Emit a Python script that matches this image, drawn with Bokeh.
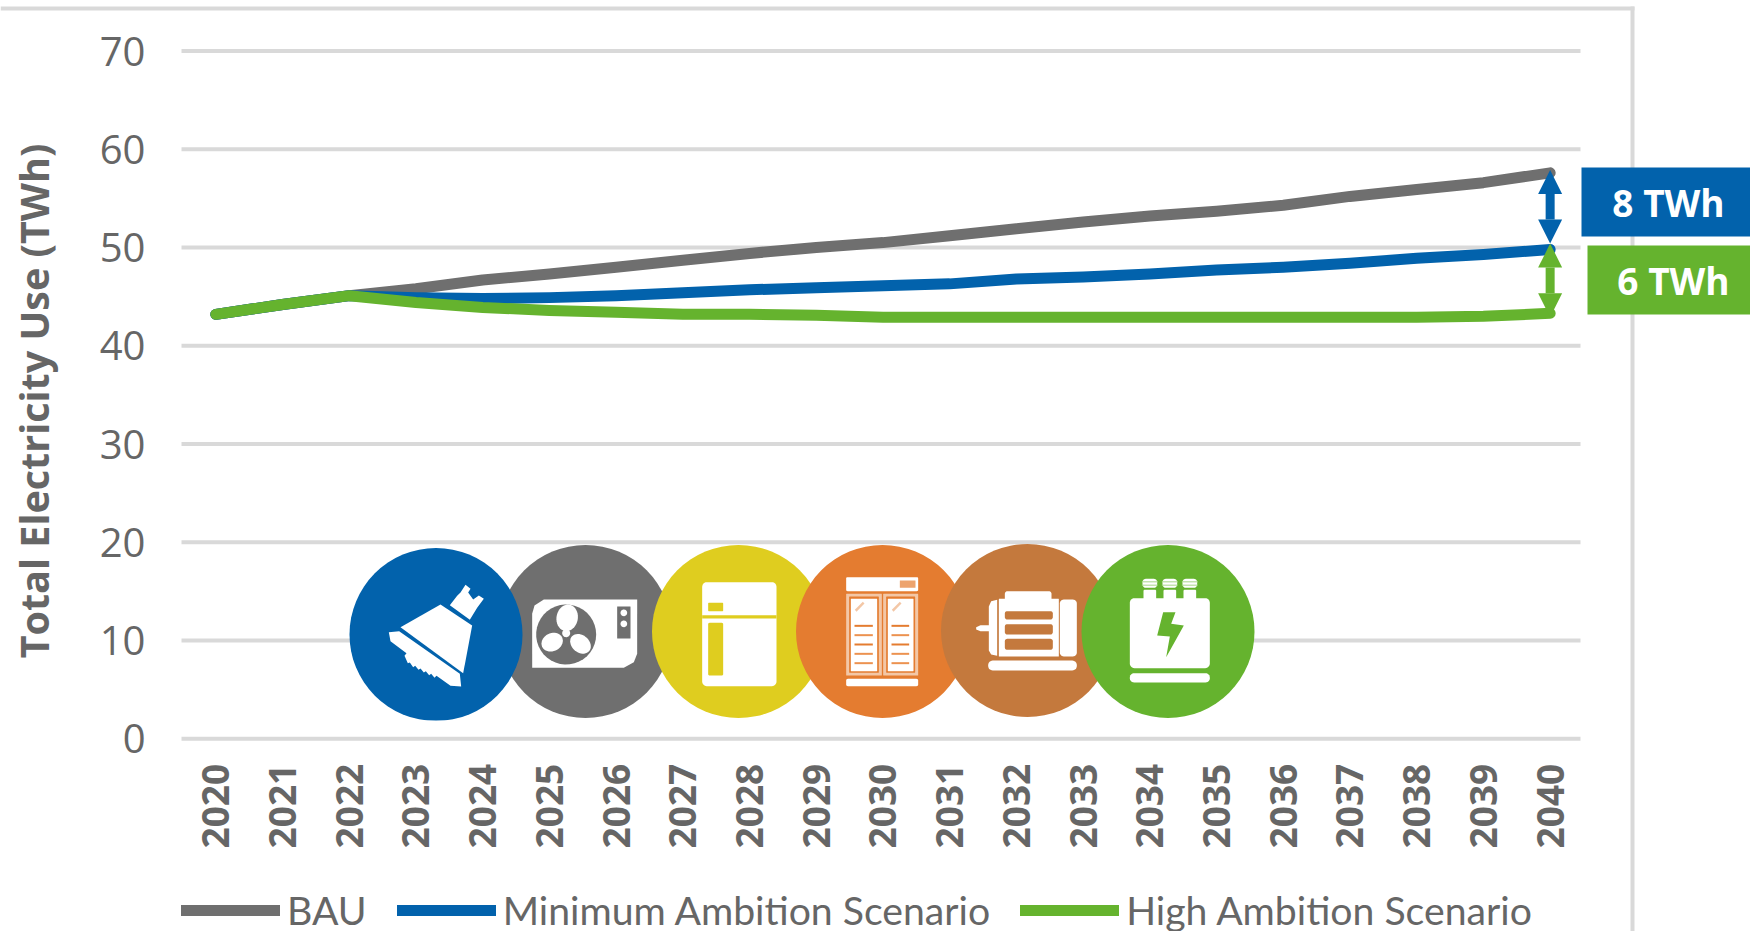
import numpy as np
from bokeh.plotting import figure
from bokeh.embed import file_html
from bokeh.resources import INLINE
from bokeh.models import (Range1d, FixedTicker, Arrow, NormalHead, Label, Legend, LegendItem)

years = list(range(2020, 2041))
y_ticks = [0, 10, 20, 30, 40, 50, 60, 70]
bau = [43.2, 44.2, 45.1, 45.8, 46.7, 47.3, 48.0, 48.7, 49.4, 50.0, 50.5, 51.2, 51.9, 52.6, 53.2, 53.7, 54.3, 55.2, 55.9, 56.6, 57.6]
min_amb = [43.2, 44.2, 45.1, 44.9, 44.8, 44.9, 45.1, 45.4, 45.7, 45.9, 46.1, 46.3, 46.8, 47.0, 47.3, 47.7, 48.0, 48.4, 48.9, 49.3, 49.8]
high_amb = [43.2, 44.2, 45.1, 44.4, 43.9, 43.6, 43.4, 43.2, 43.2, 43.1, 42.9, 42.9, 42.9, 42.9, 42.9, 42.9, 42.9, 42.9, 42.9, 43.0, 43.3]
series_names = ["BAU", "Minimum Ambition Scenario", "High Ambition Scenario"]
gap_labels = ["8 TWh", "6 TWh"]

BLUE, GRAY, GREEN = "#0262AC", "#6F6F6F", "#65B32E"
YELLOW, ORANGE, BROWN = "#DFCD1F", "#E47C30", "#C4793D"
GRID = "#D9D9D9"
TXT = "#666666"
WHITE = "#FFFFFF"

W, H = 1750, 931
L, R = 182, 1583         # pixel extent of the year scale
PX_Y0, PX_Y70 = 738.3, 50.5  # pixel rows of the 0 and 70 rules
xk = 21 / (R - L)
yk = 70 / (PX_Y0 - PX_Y70)


def sx(px):
    return 2019.5 + (px - L) * xk


def sy(py):
    return (PX_Y0 - py) * yk


# the frame fills the page, so the boxes and legend outside the plot area are not clipped
p = figure(width=W, height=H, output_backend="svg", toolbar_location=None,
           x_range=Range1d(sx(0), sx(W)), y_range=Range1d(sy(H), sy(0)),
           min_border=0, outline_line_color=None, background_fill_color=None, border_fill_color=None)
p.styles = {"position": "absolute", "left": "0", "top": "0"}

p.xgrid.visible = False
p.ygrid.visible = False
p.segment(x0=[sx(181)] * len(y_ticks), x1=[sx(1580)] * len(y_ticks), y0=y_ticks, y1=y_ticks,
          line_color=GRID, line_width=4, level="underlay")

p.xaxis.fixed_location = 0
p.yaxis.fixed_location = sx(181)
p.xaxis.ticker = FixedTicker(ticks=years)
p.xaxis.major_label_orientation = np.pi / 2
p.xaxis.major_label_standoff = 19
p.xaxis.major_label_text_font = "Open Sans"
p.xaxis.major_label_text_font_style = "bold"
p.xaxis.major_label_text_font_size = "37px"
p.xaxis.major_label_text_color = TXT

p.yaxis.ticker = FixedTicker(ticks=y_ticks)
p.yaxis.bounds = (-1.2, 70)  # centres the axis title where the reference has it
p.yaxis.major_label_standoff = 30
p.yaxis.major_label_text_font = "Open Sans"
p.yaxis.major_label_text_font_size = "40px"
p.yaxis.major_label_text_color = TXT
p.yaxis.axis_label = "Total Electricity Use (TWh)"
p.yaxis.axis_label_standoff = 36
p.yaxis.axis_label_text_font = "Open Sans"
p.yaxis.axis_label_text_font_style = "bold"
p.yaxis.axis_label_text_font_size = "39.5px"
p.yaxis.axis_label_text_color = TXT

for ax in (p.xaxis, p.yaxis):
    ax.axis_line_color = None
    ax.major_tick_line_color = None
    ax.minor_tick_line_color = None


def box(x0, y0, x1, y1, color):
    p.quad(left=sx(x0), right=sx(x1), top=sy(y0), bottom=sy(y1), fill_color=color, line_color=None)


def patch(ox, oy, pts, color):
    a = np.array(pts, dtype=float)
    p.patch(sx(ox + a[:, 0] / 3), sy(oy + a[:, 1] / 3), fill_color=color, line_color=None)


def rrect(x0, y0, x1, y1, r):
    pts = []
    for cx, cy, a0 in ((x1 - r, y0 + r, -90), (x1 - r, y1 - r, 0), (x0 + r, y1 - r, 90), (x0 + r, y0 + r, 180)):
        for a in np.radians(np.linspace(a0, a0 + 90, 7)):
            pts.append((cx + r * np.cos(a), cy + r * np.sin(a)))
    return pts


def ell(cx, cy, rx, ry, deg=0):
    t = np.linspace(0, 2 * np.pi, 40)
    c, s = np.cos(np.radians(deg)), np.sin(np.radians(deg))
    return [(cx + rx * np.cos(a) * c - ry * np.sin(a) * s, cy + rx * np.cos(a) * s + ry * np.sin(a) * c) for a in t]


# chart-area frame of the reference: top and right rules
box(0, 6, 1634, 10, GRID)
box(1630, 6, 1634, H, GRID)

# icon discs, back to front
for cx, cy, col in ((585, 631, GRAY), (435.5, 634, BLUE), (738, 631, YELLOW), (882, 631, ORANGE),
                    (1027, 630, BROWN), (1167.5, 631, GREEN)):
    p.scatter([sx(cx)], [sy(cy)], size=173, marker="circle", fill_color=col, line_color=None)
# the first disc is cropped flat at its foot
box(380, 720, 495, 726, WHITE)

# --- lamp
O = (330, 530)
patch(*O, [(358, 224), (380, 196), (390, 186), (405, 163), (420, 175), (413, 186), (428, 207), (445, 195), (460, 205), (440, 232), (418, 268)], WHITE)
patch(*O, [(210, 290), (330, 222), (425, 285), (398, 428)], WHITE)
patch(*O, [(175, 305), (206, 302), (388, 430), (392, 468), (360, 466), (318, 436), (312, 442), (302, 430), (296, 434), (286, 422), (280, 426), (270, 414), (264, 418), (254, 406), (248, 410), (238, 396), (232, 398), (222, 376), (228, 368), (180, 332)], WHITE)

# --- air conditioner
patch(*O, [(605, 250), (612, 225), (640, 207), (920, 207), (920, 370), (910, 395), (880, 412), (605, 412)], WHITE)
patch(*O, ell(707, 312, 90, 90), GRAY)
patch(*O, ell(710, 262, 32, 40, 10), WHITE)
patch(*O, ell(665, 335, 33, 27, -25), WHITE)
patch(*O, ell(750, 340, 34, 26, 40), WHITE)
patch(*O, ell(707, 308, 12, 12), WHITE)
patch(*O, rrect(860, 228, 900, 324, 1), GRAY)
patch(*O, ell(880, 247, 10, 10), WHITE)
patch(*O, ell(880, 280, 10, 10), WHITE)

# --- fridge
patch(*O, rrect(1115, 155, 1338, 467, 14), WHITE)
patch(*O, [(1115, 254), (1338, 254), (1338, 264), (1115, 264)], YELLOW)
patch(*O, rrect(1133, 217, 1178, 242, 2), YELLOW)
patch(*O, rrect(1133, 277, 1178, 435, 4), YELLOW)

# --- display freezer
F = (780, 530)
patch(*F, rrect(197, 140, 413, 182, 4), WHITE)
patch(*F, rrect(358, 150, 405, 172, 1), "#EDA36D")
patch(*F, rrect(197, 445, 413, 467, 5), WHITE)
for a, b in ((197, 304), (308, 413)):
    patch(*F, rrect(a, 190, b, 435, 1), "#F3C7A6")
    patch(*F, rrect(a + 9, 198, b - 9, 427, 2), ORANGE)
    patch(*F, rrect(a + 14, 205, b - 14, 422, 1), WHITE)
    for yy, col in ((286, ORANGE), (314, "#EC9250"), (342, ORANGE), (370, "#EC9250"), (398, "#EC9250")):
        patch(*F, [(a + 25, yy - 3), (b - 27, yy - 3), (b - 27, yy + 3), (a + 25, yy + 3)], col)
    patch(*F, [(a + 26, 238), (a + 50, 214), (a + 55, 219), (a + 31, 244)], "#F3C7A6")

# --- motor
patch(*F, rrect(623, 390, 889, 420, 14), WHITE)
patch(*F, rrect(838, 207, 889, 378, 12), WHITE)
patch(*F, rrect(655, 205, 835, 378, 1), WHITE)
patch(*F, rrect(673, 182, 813, 215, 8), WHITE)
patch(*F, [(650, 208), (632, 212), (625, 228), (625, 284), (600, 284), (587, 290), (587, 297), (600, 302), (625, 302), (625, 360), (632, 372), (650, 376)], WHITE)
for a, b in ((242, 267), (281, 312), (325, 358)):
    patch(*F, rrect(673, a, 817, b, 7), BROWN)

# --- transformer
patch(*F, rrect(1048, 428, 1288, 456, 13), WHITE)
patch(*F, rrect(1048, 203, 1288, 413, 14), WHITE)
for c in (1108, 1168, 1228):
    patch(*F, rrect(c - 19, 178, c + 19, 215, 3), WHITE)
    patch(*F, rrect(c - 22, 145, c + 22, 172, 10), WHITE)
    for yy in (154, 164):
        patch(*F, [(c - 24, yy - 1.5), (c + 24, yy - 1.5), (c + 24, yy + 1.5), (c - 24, yy + 1.5)], "#A6D586")
patch(*F, [(1148, 245), (1185, 245), (1172, 280), (1210, 285), (1157, 380), (1168, 318), (1130, 315)], GREEN)

# --- series
rs = []
for ys, col in ((bau, GRAY), (min_amb, BLUE), (high_amb, GREEN)):
    rs.append(p.line(years, ys, line_color=col, line_width=11, line_cap="round", line_join="round"))

legend = Legend(items=[LegendItem(label=n, renderers=[r]) for n, r in zip(series_names, rs)],
                orientation="horizontal", location=(181, -2), background_fill_alpha=0,
                border_line_color=None, glyph_width=99, glyph_height=30, label_standoff=7,
                spacing=30, padding=0, margin=0,
                label_text_font="Lato", label_text_font_size="39.2px",
                label_text_color=TXT, label_height=34)
p.add_layout(legend, "center")

# --- gap boxes, labels, arrows
for lab, x0, y0, y1, xc, col in ((gap_labels[0], 1581, 167, 236, 1668, BLUE), (gap_labels[1], 1587, 245, 314, 1673, GREEN)):
    box(x0, y0, W, y1, col)
    p.add_layout(Label(x=sx(xc), y=sy((y0 + y1) / 2), text=lab, text_color=WHITE,
                       text_font="Open Sans", text_font_style="bold", text_font_size="37px",
                       text_align="center", text_baseline="middle"))

for top, bot, col in ((bau[-1] + 0.3, min_amb[-1] + 0.6, BLUE), (min_amb[-1] + 0.6, high_amb[-1] - 0.4, GREEN)):
    p.add_layout(Arrow(x_start=years[-1], x_end=years[-1], y_start=bot, y_end=top, line_color=col, line_width=9,
                       start=NormalHead(size=24, fill_color=col, line_color=col, line_width=0),
                       end=NormalHead(size=24, fill_color=col, line_color=col, line_width=0)))

open("out.html", "w").write(file_html(p, INLINE))
